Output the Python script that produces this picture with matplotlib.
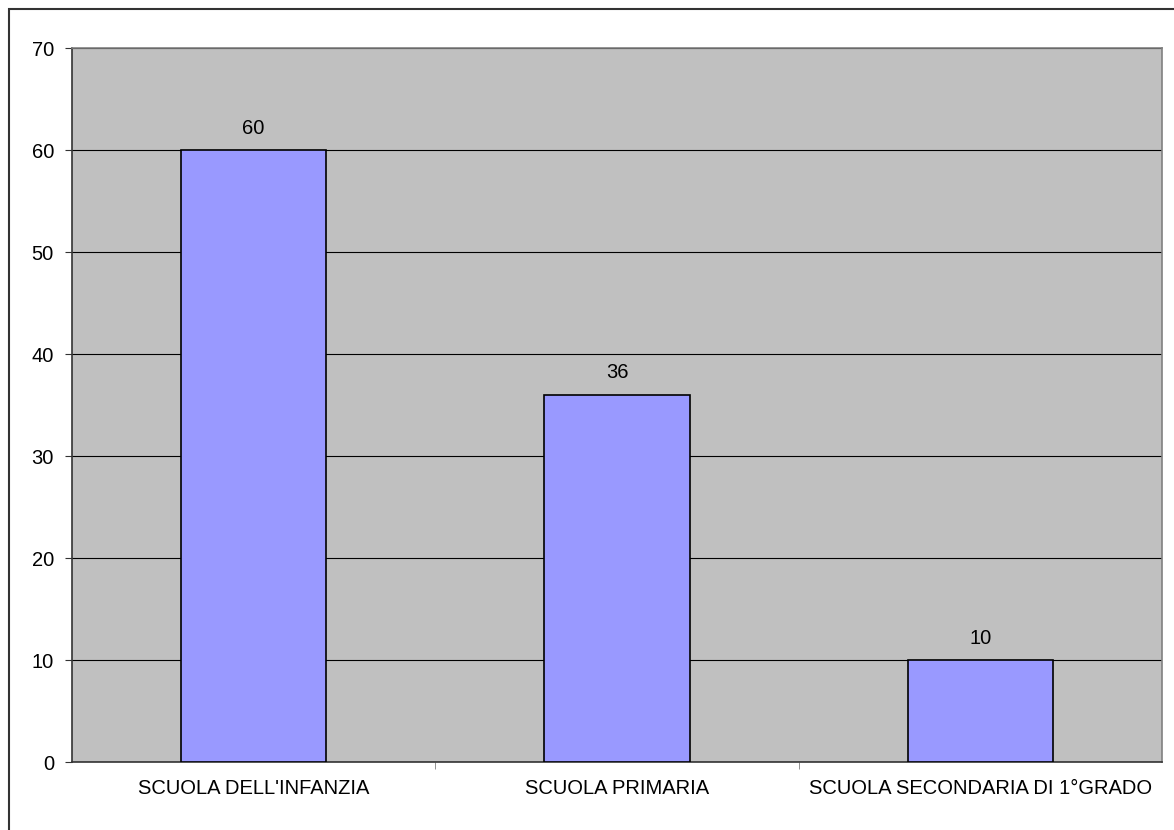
import matplotlib.pyplot as plt
from matplotlib.patches import Rectangle
import numpy as np

categories = ["SCUOLA DELL'INFANZIA", "SCUOLA PRIMARIA", "SCUOLA SECONDARIA DI 1°GRADO"]
values = [60, 36, 10]
y_ticks = [0, 10, 20, 30, 40, 50, 60, 70]

plt.rcParams['font.family'] = ['Liberation Sans', 'DejaVu Sans']

fig = plt.figure(figsize=(11.74, 8.3), dpi=100)
fig.patches.append(Rectangle((9 / 1174, -0.1), 1.2, 1 - 9 / 830 + 0.1,
                             transform=fig.transFigure, fill=False,
                             edgecolor='#333333', linewidth=1.5))

ax = fig.add_axes([72 / 1174, 1 - 762 / 830, (1162 - 72) / 1174, (762 - 48) / 830])
ax.set_facecolor('#C0C0C0')

x = np.arange(len(categories))
ax.bar(x, values, width=0.4, color='#9999FF', edgecolor='black', linewidth=1.2, zorder=3)
for xi, v in zip(x, values):
    ax.text(xi, v + 2.15, str(v), ha='center', va='center', fontsize=14.5, zorder=4)

ax.set_xlim(-0.5, len(categories) - 0.5)
ax.set_ylim(0, 70)
ax.set_yticks(y_ticks)
ax.yaxis.grid(True, color='black', linewidth=0.8, zorder=1)
ax.set_axisbelow(True)
ax.tick_params(axis='y', labelsize=14.5, length=5, color='#333333', pad=8)

ax.set_xticks(x)
ax.set_xticklabels(categories, fontsize=14.5)
ax.tick_params(axis='x', which='major', length=0, pad=12)
ax.set_xticks([0.5, 1.5], minor=True)
ax.tick_params(axis='x', which='minor', length=5, color='#808080')

ax.spines['left'].set_color('#333333')
ax.spines['bottom'].set_color('#333333')
ax.spines['top'].set_color('#808080')
ax.spines['right'].set_color('#808080')
for s in ax.spines.values():
    s.set_linewidth(1.2)

fig.savefig('out.png', dpi=100)
